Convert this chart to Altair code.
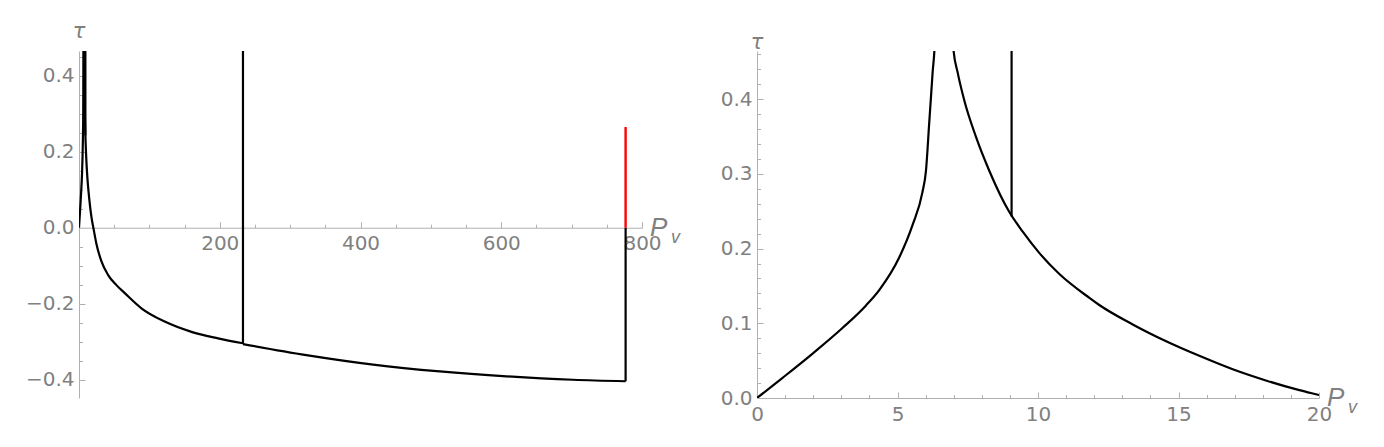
import altair as alt
import pandas as pd

# ---------------- data ----------------
# branch rising from the origin towards the pole
P_rise = [0, 0.91, 1.98, 3.05, 3.88, 4.35, 5.06, 5.54, 5.89, 6.01, 6.13, 6.25, 6.33, 6.37]
tau_rise = [0, 0.027, 0.0595, 0.094, 0.124, 0.1445, 0.188, 0.232, 0.276, 0.303, 0.369, 0.436, 0.48, 0.56]

# branch falling from the pole down to the jump at P = 233
P_fall = [6.93, 6.99, 7.14, 7.38, 7.79, 8.27, 8.98, 9.45, 10.05, 10.76, 11.83, 12.18, 13.37,
          14.56, 15.74, 16.93, 18.11, 19.3, 20.0, 24.7, 31.8, 41.2, 53.2, 65, 88.7, 121.8,
          159.8, 197.6, 233.0]
tau_fall = [0.52, 0.467, 0.436, 0.398, 0.350, 0.304, 0.249, 0.223, 0.194, 0.166, 0.134, 0.1245,
            0.0985, 0.0760, 0.0565, 0.0385, 0.0235, 0.0105, 0.004, -0.042, -0.088, -0.124,
            -0.151, -0.172, -0.212, -0.247, -0.274, -0.291, -0.304]

# branch after the jump at P = 233
P_tail = [233.0, 323, 418, 512.7, 607.5, 702, 776.7]
tau_tail = [-0.306, -0.335, -0.360, -0.378, -0.391, -0.400, -0.404]

# vertical jumps (black)
rule_P = [9.06, 233.0, 776.7]
rule_lo = [0.243, -0.306, -0.404]
rule_hi = [0.60, 0.60, 0.0]

# vertical jump (red)
red_P = [776.7]
red_lo = [0.0]
red_hi = [0.265]

# axes: left panel
L_xdom = [0, 800]
L_ydom = [-0.448, 0.465]
L_xlabels = [200, 400, 600, 800]
L_xmajor = [200, 400, 600, 800]
L_xminor = [50, 100, 150, 250, 300, 350, 450, 500, 550, 650, 700, 750]
L_ylabels = [-0.4, -0.2, 0.0, 0.2, 0.4]
L_ymajor = [-0.4, -0.2, 0.2, 0.4]
L_yminor = [-0.35, -0.3, -0.25, -0.15, -0.1, -0.05, 0.05, 0.1, 0.15, 0.25, 0.3, 0.35, 0.45]

# axes: right panel
R_xdom = [0, 20]
R_ydom = [0, 0.4646]
R_xlabels = [0, 5, 10, 15, 20]
R_xmajor = [5, 10, 15, 20]
R_xminor = [1, 2, 3, 4, 6, 7, 8, 9, 11, 12, 13, 14, 16, 17, 18, 19]
R_ylabels = [0.0, 0.1, 0.2, 0.3, 0.4]
R_ymajor = [0.1, 0.2, 0.3, 0.4]
R_yminor = [0.02, 0.04, 0.06, 0.08, 0.12, 0.14, 0.16, 0.18, 0.22, 0.24, 0.26, 0.28,
            0.32, 0.34, 0.36, 0.38, 0.42, 0.44, 0.46]

# ---------------- tables ----------------
curve = pd.DataFrame({
    "P": P_rise + P_fall + P_tail,
    "tau": tau_rise + tau_fall + tau_tail,
    "branch": ["rise"] * len(P_rise) + ["fall"] * len(P_fall) + ["tail"] * len(P_tail),
    "i": list(range(len(P_rise))) + list(range(len(P_fall))) + list(range(len(P_tail))),
})
rules = pd.DataFrame({"P": rule_P, "lo": rule_lo, "hi": rule_hi})
reds = pd.DataFrame({"P": red_P, "lo": red_lo, "hi": red_hi})

GRAY_LINE = "#b0b0b0"
GRAY_TEXT = "#808080"
FONT = "DejaVu Sans"


def panel(xdom, ydom, W, H, xlabels, xmajor, xminor, ylabels, ymajor, yminor, tau_dy):
    xs = alt.Scale(domain=xdom, nice=False, zero=False)
    ys = alt.Scale(domain=ydom, nice=False, zero=False)
    zero_from_top = H * (ydom[1] - 0.0) / (ydom[1] - ydom[0])
    base = alt.Chart(curve)

    lab_x = alt.Axis(orient="bottom", offset=-(H - zero_from_top), values=xlabels, format="d",
                     ticks=False, domain=True, grid=False, labelPadding=6, title=None,
                     labelFlush=False, labelOverlap=False)
    lab_y = alt.Axis(orient="left", values=ylabels, format=".1f", ticks=False, domain=True,
                     grid=False, labelPadding=5, title=None, labelFlush=False,
                     labelOverlap=False)
    curve_layer = base.mark_line(color="black", strokeWidth=2.2, clip=True,
                                 interpolate="monotone").encode(
        x=alt.X("P:Q", scale=xs, axis=lab_x),
        y=alt.Y("tau:Q", scale=ys, axis=lab_y),
        detail="branch:N",
        order="i:Q",
    )

    def tick_layer(xv, yv, size):
        return base.mark_point(opacity=0, clip=True).encode(
            x=alt.X("P:Q", scale=xs, axis=alt.Axis(
                orient="top", offset=-zero_from_top, values=xv, labels=False, domain=False,
                ticks=True, tickSize=size, grid=False, title=None)),
            y=alt.Y("tau:Q", scale=ys, axis=alt.Axis(
                orient="right", offset=-W, values=yv, labels=False, domain=False,
                ticks=True, tickSize=size, grid=False, title=None)),
        )

    major = tick_layer(xmajor, ymajor, 6)
    minor = tick_layer(xminor, yminor, 3.5)

    black_rules = alt.Chart(rules).mark_rule(color="black", strokeWidth=2.2, clip=True).encode(
        x=alt.X("P:Q", scale=xs, axis=None),
        y=alt.Y("lo:Q", scale=ys, axis=None),
        y2="hi:Q",
    )
    red_rules = alt.Chart(reds).mark_rule(color="#ff0000", strokeWidth=2.4, clip=True).encode(
        x=alt.X("P:Q", scale=xs, axis=None),
        y=alt.Y("lo:Q", scale=ys, axis=None),
        y2="hi:Q",
    )

    end_pt = pd.DataFrame({"x": [xdom[1]], "y": [0.0]})
    top_pt = pd.DataFrame({"x": [xdom[0]], "y": [ydom[1]]})
    P_txt = alt.Chart(end_pt).mark_text(
        text="P", align="left", baseline="middle", dx=8, dy=0, fontSize=26,
        fontStyle="italic", font="Liberation Sans", color=GRAY_TEXT
    ).encode(x=alt.X("x:Q", scale=xs, axis=None), y=alt.Y("y:Q", scale=ys, axis=None))
    v_txt = alt.Chart(end_pt).mark_text(
        text="v", align="left", baseline="middle", dx=29, dy=10, fontSize=18,
        fontStyle="italic", font="Liberation Sans", color=GRAY_TEXT
    ).encode(x=alt.X("x:Q", scale=xs, axis=None), y=alt.Y("y:Q", scale=ys, axis=None))
    tau_txt = alt.Chart(top_pt).mark_text(
        text="τ", align="center", baseline="alphabetic", dy=tau_dy, fontSize=21,
        fontStyle="italic", font="DejaVu Sans", color=GRAY_TEXT
    ).encode(x=alt.X("x:Q", scale=xs, axis=None), y=alt.Y("y:Q", scale=ys, axis=None))

    return alt.layer(
        curve_layer, major, minor, black_rules, red_rules, P_txt, v_txt, tau_txt
    ).resolve_axis(x="independent", y="independent").properties(width=W, height=H)


left = panel(L_xdom, L_ydom, 563, 347, L_xlabels, L_xmajor, L_xminor,
             L_ylabels, L_ymajor, L_yminor, -13)
right = panel(R_xdom, R_ydom, 562, 347, R_xlabels, R_xmajor, R_xminor,
              R_ylabels, R_ymajor, R_yminor, -2)

chart = alt.hconcat(left, right, spacing=115).properties(
    bounds="flush",
    padding={"left": 17, "top": 13, "right": 5, "bottom": 5},
).configure_view(stroke=None).configure_axis(
    domainColor=GRAY_LINE, tickColor=GRAY_LINE, domainWidth=1, tickWidth=1,
    labelColor=GRAY_TEXT, labelFont=FONT, labelFontSize=20,
)

chart.save("out.html", embed_options={"renderer": "svg", "actions": False})
